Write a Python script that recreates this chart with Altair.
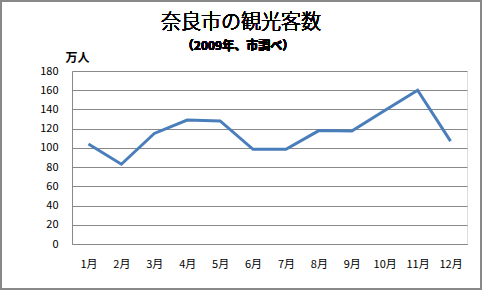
import altair as alt
import pandas as pd

months = ["1月", "2月", "3月", "4月", "5月", "6月", "7月", "8月", "9月", "10月", "11月", "12月"]
visitors = [104, 83, 115, 129, 128, 98.5, 98.5, 118, 117.5, 139, 160, 107]
title_text = "奈良市の観光客数"
subtitle_text = "（2009年、市調べ）"

df = pd.DataFrame({"month": months, "visitors": visitors})

FONT = "Noto Sans CJK JP"
W, H = 395, 173
L, T = 72, 71

line = alt.Chart(df).mark_line(color="#4A7EBB", strokeWidth=3).encode(
    x=alt.X("month:N", sort=months,
            scale=alt.Scale(paddingInner=0, paddingOuter=0),
            axis=alt.Axis(title=None, labelAngle=0, ticks=False, domain=True,
                          domainColor="#888888", labelFont=FONT, labelFontSize=11,
                          labelColor="#000000", labelPadding=14, grid=False)),
    y=alt.Y("visitors:Q", scale=alt.Scale(domain=[0, 180], nice=False),
            axis=alt.Axis(values=list(range(0, 181, 20)), title="万人",
                          titleAngle=0, titleX=5, titleY=-14, titleAlign="center",
                          titleBaseline="middle", titleFont=FONT, titleFontSize=12,
                          titleFontWeight="bold", titleColor="#000000",
                          labelFont=FONT, labelFontSize=11, labelColor="#000000",
                          labelPadding=14, ticks=False, domain=True,
                          domainColor="#888888", gridColor="#888888", gridOpacity=1)),
)

border = alt.Chart(df).mark_rect(fill=None, stroke="#888888", strokeWidth=2).encode(
    x=alt.value(1 - L), x2=alt.value(481 - L),
    y=alt.value(1 - T), y2=alt.value(289 - T),
)

title = alt.Chart(df).mark_text(
    text=title_text, font=FONT, fontSize=20, fontWeight=300, color="#000000",
    align="center", baseline="middle",
).encode(x=alt.value(241 - L), y=alt.value(23 - T))

subtitle = alt.Chart(df).mark_text(
    text=subtitle_text, font=FONT, fontSize=12, fontWeight="bold", color="#000000",
    align="center", baseline="middle",
).encode(x=alt.value(238 - L), y=alt.value(46 - T))

chart = alt.layer(border, line, title, subtitle).properties(
    width=W, height=H,
    autosize=alt.AutoSizeParams(type="none"),
    padding={"left": L, "top": T, "right": 483 - L - W, "bottom": 291 - T - H},
).configure_view(stroke=None).configure(background="white")

chart.save("out.html", embed_options={"renderer": "svg", "actions": False})
